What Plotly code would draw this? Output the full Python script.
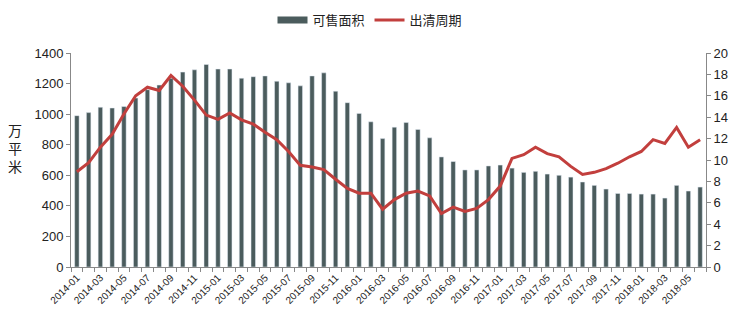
import plotly.graph_objects as go

months = [f"{y}-{m:02d}" for y in range(2014, 2019) for m in range(1, 13)][:54]

area = [990, 1010, 1045, 1040, 1050, 1105, 1160, 1190, 1235, 1275, 1290, 1325, 1295, 1295,
        1235, 1245, 1250, 1215, 1205, 1185, 1250, 1270, 1150, 1075, 1005, 950, 840, 915,
        945, 900, 845, 720, 690, 635, 635, 661, 667, 647, 619, 626, 608, 600, 588, 556,
        534, 510, 481, 481, 477, 477, 451, 534, 497, 523]

cycle = [8.9, 9.75, 11.2, 12.4, 14.3, 16.0, 16.8, 16.5, 17.9, 16.9, 15.6, 14.2, 13.8, 14.4,
         13.75, 13.35, 12.6, 11.9, 10.8, 9.5, 9.35, 9.1, 8.2, 7.35, 6.9, 6.9, 5.4, 6.3,
         6.9, 7.1, 6.65, 5.0, 5.6, 5.2, 5.47, 6.3, 7.56, 10.15, 10.5, 11.2, 10.6, 10.3,
         9.4, 8.65, 8.85, 9.2, 9.7, 10.3, 10.8, 11.9, 11.55, 13.05, 11.2, 11.9]

tick_text = [m if i % 2 == 0 else "" for i, m in enumerate(months)]

BAR = "#4b5c5d"
LINE = "#c23f3d"
FONT = "Liberation Sans, Arial, sans-serif"

fig = go.Figure()
fig.add_trace(go.Bar(x=months, y=area, name="可售面积", marker_color=BAR, yaxis="y",
                     showlegend=False))
# legend entry with a wide rectangular swatch like the reference
fig.add_trace(go.Scatter(x=[None], y=[None], name="可售面积", mode="lines",
                         line=dict(color=BAR, width=7), yaxis="y"))
fig.add_trace(go.Scatter(x=months, y=cycle, name="出清周期", mode="lines",
                         line=dict(color=LINE, width=3), yaxis="y2"))

fig.update_layout(
    width=740, height=326,
    margin=dict(l=71, r=34, t=53, b=59, autoexpand=False),
    paper_bgcolor="white", plot_bgcolor="white",
    font=dict(family=FONT, color="#222", size=13),
    bargap=0.62,
    showlegend=True,
    legend=dict(orientation="h", x=0.5, xanchor="center", xref="container",
                y=1 - 20 / 326, yanchor="middle", yref="container",
                font=dict(size=13, family="Noto Sans CJK SC, sans-serif"),
                itemwidth=30, traceorder="normal"),
    xaxis=dict(type="category", tickmode="array", tickvals=months, ticktext=tick_text,
               tickangle=-45, tickfont=dict(size=10), ticks="outside", ticklen=4,
               tickson="boundaries", tickcolor="#888", showline=True, linecolor="#888",
               showgrid=False, range=[-0.5, 53.5], automargin=False),
    yaxis=dict(range=[0, 1400], dtick=200, showgrid=False, showline=True, linecolor="#888",
               ticks="outside", ticklen=4, tickcolor="#888", tickfont=dict(size=13),
               zeroline=False, automargin=False),
    yaxis2=dict(range=[0, 20], dtick=2, overlaying="y", side="right", showgrid=False,
                showline=True, linecolor="#888", ticks="outside", ticklen=4, tickcolor="#888",
                tickfont=dict(size=13), zeroline=False, automargin=False),
    annotations=[dict(text="万<br>平<br>米", x=(15 - 71) / (740 - 71 - 34),
                      y=(267 - 148) / (267 - 53), xref="paper", yref="paper",
                      xanchor="center", yanchor="middle", showarrow=False,
                      font=dict(size=14, family="Noto Sans CJK SC, sans-serif"))],
)

fig.write_html("out.html")
